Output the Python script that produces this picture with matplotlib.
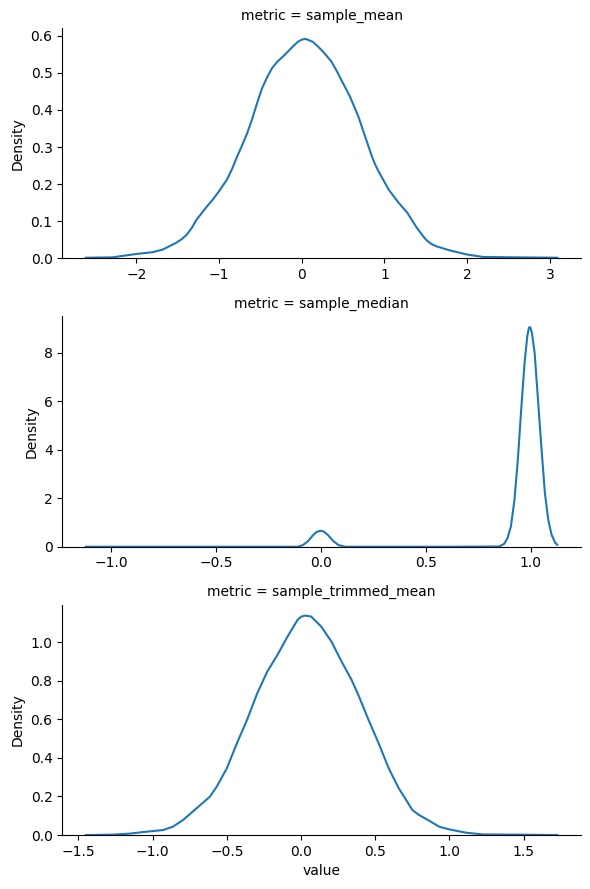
import matplotlib
matplotlib.use("Agg")
import matplotlib.pyplot as plt

metrics = ["sample_mean", "sample_median", "sample_trimmed_mean"]

# KDE curves
mean_x = [-2.61, -2.29, -2.0, -1.80, -1.68, -1.52, -1.45, -1.39, -1.33, -1.27,
          -1.15, -1.07, -1.0, -0.905, -0.84, -0.78, -0.72, -0.66, -0.60, -0.54,
          -0.48, -0.416, -0.36, -0.294, -0.23, -0.171, -0.11, -0.049, 0.0, 0.04,
          0.073, 0.135, 0.2, 0.277, 0.359, 0.42, 0.48, 0.583, 0.685, 0.767,
          0.848, 0.89, 0.930, 1.0, 1.052, 1.175, 1.277, 1.378, 1.44, 1.50,
          1.56, 1.623, 1.786, 1.99, 2.19, 2.60, 3.09]
mean_y = [0.002, 0.003, 0.012, 0.017, 0.024, 0.042, 0.052, 0.064, 0.082, 0.105,
          0.139, 0.160, 0.181, 0.212, 0.242, 0.275, 0.305, 0.337, 0.375, 0.418,
          0.458, 0.489, 0.512, 0.530, 0.543, 0.556, 0.570, 0.583, 0.589, 0.591,
          0.589, 0.583, 0.570, 0.552, 0.530, 0.506, 0.480, 0.436, 0.382, 0.328,
          0.275, 0.252, 0.234, 0.206, 0.185, 0.149, 0.123, 0.087, 0.068, 0.051,
          0.040, 0.033, 0.022, 0.011, 0.004, 0.003, 0.002]

median_x = [-1.12, -0.5, -0.15, -0.11, -0.085, -0.061, -0.037, -0.018, 0.0, 0.015,
            0.035, 0.06, 0.084, 0.116, 0.3, 0.6, 0.85, 0.874, 0.890, 0.906,
            0.923, 0.939, 0.955, 0.971, 0.984, 0.992, 0.998, 1.006, 1.019, 1.035,
            1.052, 1.068, 1.084, 1.1, 1.116, 1.127]
median_y = [0.0, 0.0, 0.0, 0.0, 0.07, 0.23, 0.48, 0.62, 0.66, 0.62,
            0.47, 0.23, 0.07, 0.0, 0.0, 0.0, 0.01, 0.12, 0.36, 0.84,
            1.94, 3.59, 5.65, 7.57, 8.67, 9.03, 9.04, 8.81, 7.99, 6.06,
            4.0, 2.21, 1.11, 0.49, 0.18, 0.08]

trim_x = [-1.45, -1.27, -1.16, -1.045, -0.93, -0.864, -0.795, -0.705, -0.614, -0.568,
          -0.5, -0.432, -0.364, -0.295, -0.227, -0.159, -0.091, -0.023, 0.0, 0.027,
          0.068, 0.136, 0.205, 0.273, 0.341, 0.386, 0.455, 0.523, 0.591, 0.659,
          0.71, 0.75, 0.795, 0.864, 0.932, 1.0, 1.114, 1.227, 1.455, 1.727]
trim_y = [0.0, 0.002, 0.007, 0.017, 0.026, 0.043, 0.078, 0.138, 0.199, 0.251,
          0.346, 0.476, 0.597, 0.735, 0.848, 0.934, 1.029, 1.116, 1.132, 1.138,
          1.133, 1.081, 1.003, 0.900, 0.804, 0.727, 0.597, 0.476, 0.346, 0.242,
          0.180, 0.130, 0.104, 0.074, 0.043, 0.029, 0.012, 0.003, 0.002, 0.0]

curves = [(mean_x, mean_y), (median_x, median_y), (trim_x, trim_y)]

fig, axes = plt.subplots(3, 1, figsize=(5.9, 8.89))
fig.subplots_adjust(left=0.1056, right=0.9845, top=0.9685, bottom=0.0607, hspace=0.251)

for ax, name, (xs, ys) in zip(axes, metrics, curves):
    ax.plot(xs, ys, color="#1f77b4", linewidth=1.5)
    ax.set_ylim(bottom=0)
    ax.set_title(f"metric = {name}", fontsize=10)
    ax.set_ylabel("Density")
    ax.spines["top"].set_visible(False)
    ax.spines["right"].set_visible(False)

axes[-1].set_xlabel("value")

plt.savefig("out.png", dpi=100)
